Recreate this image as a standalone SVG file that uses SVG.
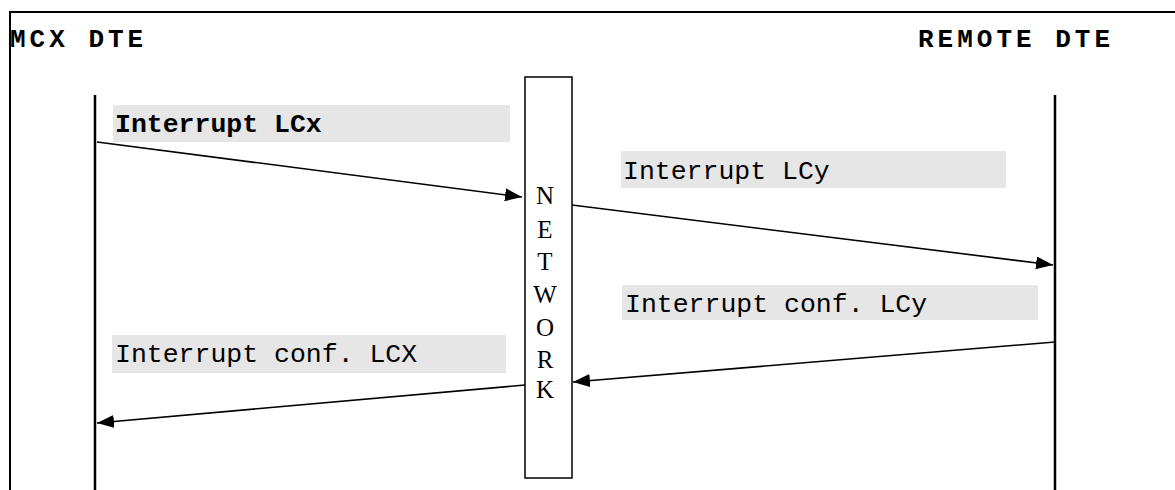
<svg xmlns="http://www.w3.org/2000/svg" width="1175" height="490" viewBox="0 0 1175 490">
<style>
.frame{fill:none;stroke:#000;stroke-width:2}
.life{stroke:#000;stroke-width:2.5}
.conn{stroke:#000;stroke-width:1.6;fill:none;marker-end:url(#ah)}
.lbl{fill:#e6e6e6}
.mono{font-family:"Liberation Mono","Courier New",monospace;font-size:26.5px;fill:#000}
.head{font-family:"Liberation Mono","Courier New",monospace;font-size:26px;font-weight:bold;letter-spacing:4px;fill:#000}
.net{font-family:"Liberation Serif","Times New Roman",serif;font-size:25px;fill:#000;text-anchor:middle}
</style>
<defs>
<marker id="ah" markerUnits="userSpaceOnUse" markerWidth="18" markerHeight="14" refX="17" refY="6.5" orient="auto">
<path d="M0,0 L17,6.5 L0,13 Z" fill="#000"/>
</marker>
</defs>
<rect width="1175" height="490" fill="#fff"/>
<path class="frame" d="M10,490 V12 H1175"/>
<g id="mcx-dte">
<text class="head" x="10" y="47">MCX DTE</text>
<line class="life" x1="95" y1="95" x2="95" y2="490"/>
</g>
<g id="remote-dte">
<text class="head" x="918" y="47">REMOTE DTE</text>
<line class="life" x1="1055" y1="95" x2="1055" y2="490"/>
</g>
<g id="network">
<rect x="525" y="77" width="47" height="401" fill="#fff" stroke="#000" stroke-width="1.5"/>
<text class="net" x="545" y="204">N</text>
<text class="net" x="545" y="238">E</text>
<text class="net" x="545" y="270">T</text>
<text class="net" x="545" y="303">W</text>
<text class="net" x="545" y="336">O</text>
<text class="net" x="545" y="368">R</text>
<text class="net" x="545" y="398">K</text>
</g>
<g id="label-interrupt-lcx">
<rect class="lbl" x="113" y="105" width="397" height="37"/>
<text class="mono" x="115" y="132" font-weight="bold">Interrupt LCx</text>
</g>
<g id="label-interrupt-lcy">
<rect class="lbl" x="621" y="151" width="385" height="37"/>
<text class="mono" x="623" y="179">Interrupt LCy</text>
</g>
<g id="label-conf-lcy">
<rect class="lbl" x="622" y="285" width="416" height="35"/>
<text class="mono" x="625" y="312">Interrupt conf. LCy</text>
</g>
<g id="label-conf-lcx">
<rect class="lbl" x="112" y="335" width="394" height="38"/>
<text class="mono" x="115" y="362">Interrupt conf. LCX</text>
</g>
<g id="connectors">
<line class="conn" x1="97" y1="142" x2="522" y2="197"/>
<line class="conn" x1="572" y1="205" x2="1053" y2="265"/>
<line class="conn" x1="1055" y1="342" x2="573" y2="382"/>
<line class="conn" x1="525" y1="385" x2="97" y2="423"/>
</g>
</svg>
